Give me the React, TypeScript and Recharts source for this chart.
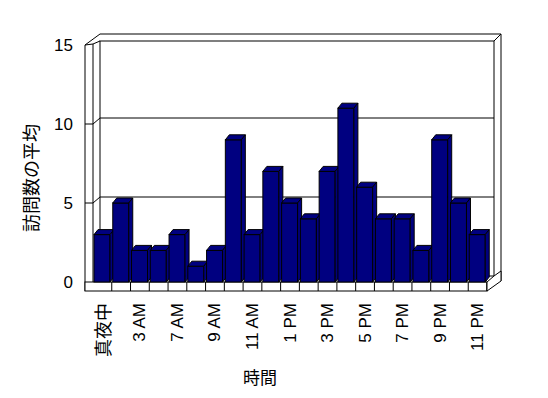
import { Bar, BarChart, Label, ReferenceArea, XAxis, YAxis } from 'recharts'

const HOURS = ['真夜中', '1 AM', '3 AM', '5 AM', '7 AM', '8 AM', '9 AM', '10 AM', '11 AM', '正午', '1 PM', '2 PM', '3 PM', '4 PM', '5 PM', '6 PM', '7 PM', '8 PM', '9 PM', '10 PM', '11 PM']
const AVG_VISITS = [3, 5, 2, 2, 3, 1, 2, 9, 3, 7, 5, 4, 7, 11, 6, 4, 4, 2, 9, 5, 3]
const Y_TICKS = [0, 5, 10, 15]

const NAVY = '#000080'
const LATIN = '"Liberation Sans", Arial, sans-serif'
const CJK = '"Noto Sans CJK JP", sans-serif'
const DEPTH_X = 4
const DEPTH_Y = -5

const data = HOURS.map((hour, i) => ({ hour, visits: AVG_VISITS[i] }))

function Bar3D(props: any) {
  const { x, y, width, height } = props
  if (!height) return null
  const r = x + width
  const b = y + height
  return (
    <g stroke="#000" strokeWidth={1} fill={NAVY}>
      <rect x={x} y={y} width={width} height={height} />
      <polygon points={`${x},${y} ${x + DEPTH_X},${y + DEPTH_Y} ${r + DEPTH_X},${y + DEPTH_Y} ${r},${y}`} />
      <polygon points={`${r},${y} ${r + DEPTH_X},${y + DEPTH_Y} ${r + DEPTH_X},${b + DEPTH_Y} ${r},${b}`} />
    </g>
  )
}

// walls + floor of the 3d box, drawn around the front plot rectangle
function Frame(props: any) {
  const { x, y, width, height } = props
  const L = x
  const T = y
  const R = x + width
  const B = y + height
  const yOf = (v: number) => B - (v / Y_TICKS[Y_TICKS.length - 1]) * height
  const band = width / HOURS.length
  const line = { stroke: '#000', strokeWidth: 1, fill: 'none' }
  return (
    <g>
      <rect x={L + 7} y={T - 4} width={width} height={height - 2} fill="#fff" stroke="#000" />
      {Y_TICKS.slice(1, -1).map((v) => (
        <g key={v}>
          <line x1={L + 7} x2={R + 7} y1={yOf(v) - 6} y2={yOf(v) - 6} {...line} />
          <polyline points={`${L - 8},${yOf(v)} ${L},${yOf(v)} ${L + 7},${yOf(v) - 6}`} {...line} />
        </g>
      ))}
      <line x1={L - 8} x2={L - 8} y1={T} y2={B + 9} {...line} />
      <line x1={L} x2={L} y1={T - 1} y2={B} {...line} />
      <polyline points={`${L - 8},${T} ${L},${T - 1} ${L + 7},${T - 4}`} {...line} />
      <polyline points={`${L - 8},${T} ${L + 7},${T - 11} ${R + 14},${T - 11} ${R + 14},${B - 1}`} {...line} />
      <line x1={R + 7} x2={R + 14} y1={T - 4} y2={T - 11} {...line} />
      <rect x={L - 8} y={B} width={width + 8} height={9} fill="#fff" stroke="#000" />
      {HOURS.map((h, i) => (
        <line key={h} x1={L + band * (i + 1)} x2={L + band * (i + 1)} y1={B} y2={B + 9} {...line} />
      ))}
      <polygon points={`${R},${B} ${R + 7},${B - 6} ${R + 14},${B - 11} ${R + 14},${B - 1} ${R},${B + 9}`} fill="#fff" stroke="#000" />
    </g>
  )
}

function HourTick(props: any) {
  const { x, y, payload } = props
  const label = String(payload.value)
  const cjk = /[^\x00-\x7f]/.test(label)
  return (
    <text
      x={x}
      y={y}
      transform={`rotate(-90, ${x}, ${y})`}
      textAnchor="end"
      dominantBaseline="central"
      fontFamily={cjk ? CJK : LATIN}
      fontSize={cjk ? 18 : 17}
      fill="#000"
    >
      {label}
    </text>
  )
}

function ValueTick(props: any) {
  const { y, payload } = props
  return (
    <text x={73} y={y} textAnchor="end" dominantBaseline="central" fontFamily={LATIN} fontSize={17} fill="#000">
      {payload.value}
    </text>
  )
}

export default function App() {
  return (
    <div style={{ position: 'absolute', left: 0, top: 0, width: 548, height: 398, background: '#fff' }}>
      <BarChart width={548} height={398} data={data} margin={{ top: 45, right: 61, bottom: 0, left: 0 }} barSize={16}>
        <XAxis
          dataKey="hour"
          interval={1}
          height={116}
          axisLine={false}
          tickLine={false}
          tickSize={0}
          tickMargin={21}
          tick={<HourTick />}
        >
          <Label
            content={(p: any) => (
              <text x={p.viewBox.x + p.viewBox.width / 2 - 30} y={p.viewBox.y + 94} textAnchor="middle" dominantBaseline="central" fontFamily={CJK} fontSize={17} fill="#000">
                時間
              </text>
            )}
          />
        </XAxis>
        <YAxis
          type="number"
          domain={[0, 15]}
          ticks={Y_TICKS}
          width={93}
          axisLine={false}
          tickLine={false}
          tick={<ValueTick />}
        >
          <Label
            content={(p: any) => (
              <text x={30} y={p.viewBox.y + 133} transform={`rotate(-90, 30, ${p.viewBox.y + 133})`} textAnchor="middle" dominantBaseline="central" fontFamily={CJK} fontSize={18} fill="#000">
                訪問数の平均
              </text>
            )}
          />
        </YAxis>
        <ReferenceArea y1={0} y2={15} shape={<Frame />} ifOverflow="visible" />
        <Bar dataKey="visits" shape={<Bar3D />} isAnimationActive={false} />
      </BarChart>
    </div>
  )
}
